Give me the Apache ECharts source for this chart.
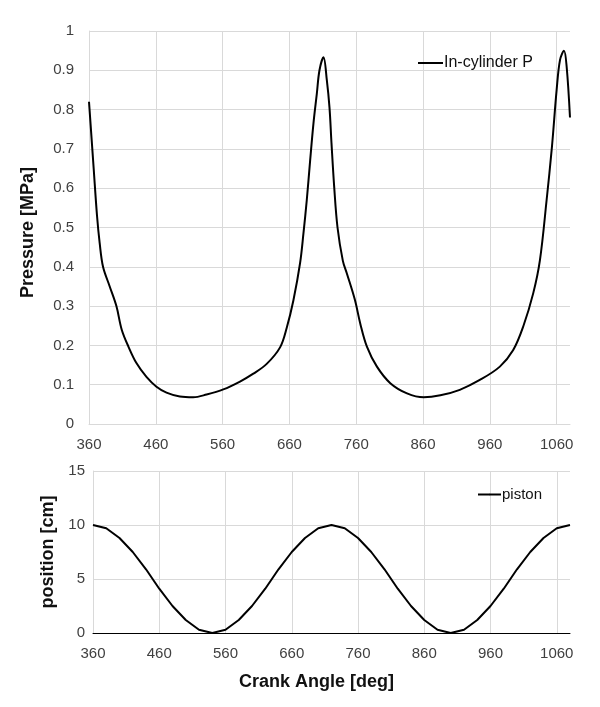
<!DOCTYPE html>
<html>
<head>
<meta charset="utf-8">
<script src="https://cdn.jsdelivr.net/npm/echarts@6/dist/echarts.min.js"></script>
<style>html,body{margin:0;padding:0;background:#fff}#c{width:600px;height:707px}</style>
</head>
<body>
<div id="c"></div>
<script>
const xTicks = [360, 460, 560, 660, 760, 860, 960, 1060];
const pressureDeg = [360,367,372,376,381,391,401,409,419,431,446,461,476,496,516,536,561,586,606,626,646,656,666,676,681,686,691,696,701,705,711,716,720,723,727,732,740,746,758,766,776,791,811,836,861,886,915,945,975,995,1010,1025,1035,1045,1053,1060,1065,1071,1075,1080];
const pressure = [0.82,0.65,0.53,0.46,0.40,0.35,0.30,0.24,0.197,0.155,0.12,0.095,0.08,0.07,0.068,0.075,0.088,0.108,0.128,0.153,0.195,0.245,0.315,0.41,0.485,0.57,0.67,0.765,0.84,0.90,0.933,0.875,0.805,0.714,0.604,0.50,0.415,0.383,0.316,0.256,0.197,0.146,0.104,0.078,0.068,0.073,0.087,0.112,0.146,0.188,0.248,0.333,0.417,0.57,0.706,0.85,0.926,0.95,0.909,0.78];
const pistonDeg = [360,380,400,420,440,460,480,500,520,540,560,580,600,620,640,660,680,700,720,740,760,780,800,820,840,860,880,900,920,940,960,980,1000,1020,1040,1060,1080];
const piston = [10,9.7,8.8,7.5,5.9,4.1,2.5,1.2,0.3,0,0.3,1.2,2.5,4.1,5.9,7.5,8.8,9.7,10,9.7,8.8,7.5,5.9,4.1,2.5,1.2,0.3,0,0.3,1.2,2.5,4.1,5.9,7.5,8.8,9.7,10];

const chart = echarts.init(document.getElementById('c'), null, {renderer: 'canvas'});
const grey = '#d9d9d9';
const font = 'Liberation Sans, Arial';
const lbl = {color: '#404040', fontSize: 15, fontFamily: font};
function xAxis(idx, axisColor, name) {
  return {
    type: 'value', gridIndex: idx, min: 360, max: 1080,
    axisLine: {show: true, onZero: false, lineStyle: {color: axisColor, width: 1}},
    axisTick: {show: false, customValues: xTicks},
    axisLabel: Object.assign({customValues: xTicks, margin: 13, formatter: v => String(v)}, lbl),
    splitLine: {show: true, lineStyle: {color: grey, width: 1}},
    name: name || '', nameLocation: 'middle', nameGap: 40,
    nameTextStyle: {fontSize: 18, fontWeight: 'bold', color: '#111', fontFamily: font, padding: [0, 30, 0, 0]}
  };
}
const option = {
  animation: false,
  backgroundColor: '#fff',
  grid: [
    {left: 89, right: 30, top: 31, height: 393},
    {left: 93, right: 30, top: 471, height: 162}
  ],
  xAxis: [xAxis(0, grey), xAxis(1, '#000', 'Crank Angle [deg]')],
  yAxis: [
    {type: 'value', gridIndex: 0, min: 0, max: 1, interval: 0.1,
     axisLine: {show: true, lineStyle: {color: grey}}, axisTick: {show: false},
     axisLabel: Object.assign({margin: 15, formatter: v => String(Math.round(v * 10) / 10)}, lbl),
     splitLine: {lineStyle: {color: grey, width: 1}},
     name: 'Pressure [MPa]', nameLocation: 'middle', nameGap: 52,
     nameTextStyle: {fontSize: 18, fontWeight: 'bold', color: '#111', fontFamily: font, padding: [0, 10, 0, 0]}},
    {type: 'value', gridIndex: 1, min: 0, max: 15, interval: 5,
     axisLine: {show: true, lineStyle: {color: grey}}, axisTick: {show: false},
     axisLabel: Object.assign({margin: 8}, lbl),
     splitLine: {lineStyle: {color: grey, width: 1}},
     name: 'position [cm]', nameLocation: 'middle', nameGap: 33,
     nameTextStyle: {fontSize: 18, fontWeight: 'bold', color: '#111', fontFamily: font}}
  ],
  legend: [
    {data: ['In-cylinder P'], left: 412, top: 50, itemWidth: 25, itemHeight: 2, itemGap: 4,
     textStyle: {fontSize: 16, color: '#111', fontFamily: font, padding: [0, 0, 0, -4]}},
    {data: ['piston'], left: 472, top: 482, itemWidth: 23, itemHeight: 2,
     textStyle: {fontSize: 15, color: '#111', fontFamily: font, padding: [0, 0, 0, -4]}}
  ],
  series: [
    {name: 'In-cylinder P', type: 'line', xAxisIndex: 0, yAxisIndex: 0,
     data: pressureDeg.map((d, i) => [d, pressure[i]]), symbol: 'none', smooth: 0.35,
     lineStyle: {color: '#000', width: 2}, itemStyle: {color: '#000'}},
    {name: 'piston', type: 'line', xAxisIndex: 1, yAxisIndex: 1,
     data: pistonDeg.map((d, i) => [d, piston[i]]), symbol: 'none',
     lineStyle: {color: '#000', width: 2}, itemStyle: {color: '#000'}}
  ]
};
chart.setOption(option);
</script>
</body>
</html>
